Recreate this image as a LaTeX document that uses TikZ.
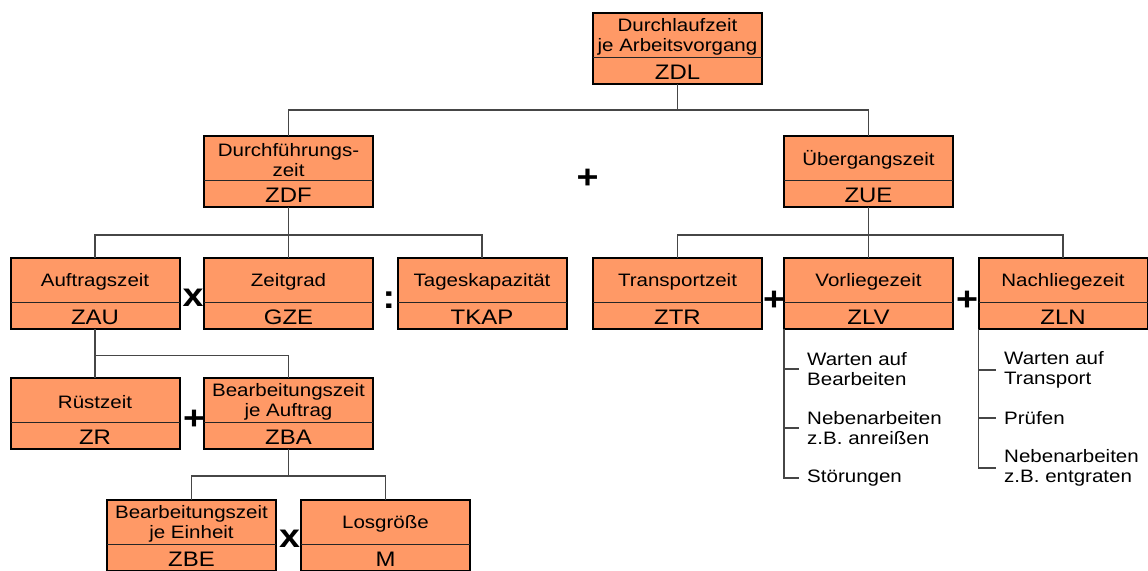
\documentclass[tikz,border=0pt]{standalone}
\usepackage{fontspec}
\setmainfont{Liberation Sans}[FakeStretch=1.14]
\usetikzlibrary{calc}

\definecolor{kastenfarbe}{RGB}{255,153,102}
\definecolor{linie}{RGB}{70,70,70}

\tikzset{
  kasten/.style={draw=black, line width=2pt, fill=kastenfarbe,
    minimum width=169pt, minimum height=71pt, outer sep=0pt, inner sep=0pt},
  teiler/.style={draw=black!85, line width=1pt},
  titel/.style={font=\fontsize{18}{20}\selectfont, align=center, inner sep=0pt},
  kurz/.style={font=\fontsize{21}{21}\selectfont, inner sep=0pt},
  verb/.style={draw=linie, line width=1.1pt},
  op/.style={font=\fontsize{33}{33}\selectfont\bfseries, inner sep=0pt},
  liste/.style={font=\fontsize{18}{20.5}\selectfont, align=left, inner sep=0pt, anchor=west},
}

% box with a description on top and the abbreviation below
\newcommand\kasten[5]{%
  \node[kasten] (#1) at (#2,#3) {};
  \draw[teiler] ($(#1.north west)+(0,44.5)$) -- ($(#1.north east)+(0,44.5)$);
  \node[titel] (#1-t) at ($(#1.north)+(0,24)$) {#4};
  \node[kurz] (#1-k) at ($(#1.south)+(0,-12)$) {#5};
}

\begin{document}
\begin{tikzpicture}[x=1pt, y=-1pt]
  \useasboundingbox (0,0) rectangle (1148,570);
  \clip (0,0) rectangle (1148,570);

  % boxes
  \kasten{zdl}{677.5}{48.5}{Durchlaufzeit\\je Arbeitsvorgang}{ZDL}
  \kasten{zdf}{288.5}{171.5}{Durchführungs-\\zeit}{ZDF}
  \kasten{zue}{868.5}{171.5}{Übergangszeit}{ZUE}
  \kasten{zau}{95}{293.7}{Auftragszeit}{ZAU}
  \kasten{gze}{288.5}{293.7}{Zeitgrad}{GZE}
  \kasten{tkap}{482}{293.7}{Tageskapazität}{TKAP}
  \kasten{ztr}{677.5}{293.7}{Transportzeit}{ZTR}
  \kasten{zlv}{868.5}{293.7}{Vorliegezeit}{ZLV}
  \kasten{zln}{1063}{293.7}{Nachliegezeit}{ZLN}
  \kasten{zr}{95}{413.5}{Rüstzeit}{ZR}
  \kasten{zba}{288.5}{413.5}{Bearbeitungszeit\\je Auftrag}{ZBA}
  \kasten{zbe}{191.5}{535.5}{Bearbeitungszeit\\je Einheit}{ZBE}
  \kasten{m}{385.5}{535.5}{Losgröße}{M}

  % tree connectors
  \coordinate (b1) at ($(zdl.south)+(0,26)$);
  \draw[verb] (zdl.south) -- (b1);
  \draw[verb] (zdf.north) |- (b1) -| (zue.north);

  \coordinate (b2) at ($(zdf.south)+(0,28)$);
  \draw[verb] (zdf.south) -- (gze.north);
  \draw[verb] (zau.north) |- (b2) -| (tkap.north);

  \coordinate (b3) at ($(zue.south)+(0,28)$);
  \draw[verb] (zue.south) -- (zlv.north);
  \draw[verb] (ztr.north) |- (b3) -| (zln.north);

  \coordinate (b4) at ($(zau.south)+(0,26)$);
  \draw[verb] (zau.south) -- (zr.north);
  \draw[verb] (b4) -| (zba.north);

  \coordinate (b5) at ($(zba.south)+(0,27)$);
  \draw[verb] (zba.south) -- (b5);
  \draw[verb] (zbe.north) |- (b5) -| (m.north);

  % operators
  \node[op] (op1) at (587.5,179) {+};
  \node[op] (op2) at (193,298) {x};
  \node[op] (op3) at (389,300) {:};
  \node[op] (op4) at (774,301) {+};
  \node[op] (op5) at (967,301) {+};
  \node[op] (op6) at (194,420) {+};
  \node[op] (op7) at (289.5,539) {x};

  % lists below the waiting times
  \node[liste] (lv1) at (807,369) {Warten auf\\Bearbeiten};
  \node[liste] (lv2) at (807,428) {Nebenarbeiten\\z.B. anreißen};
  \node[liste] (lv3) at (807,478) {Störungen};
  \node[liste] (ln1) at (1004,370) {Warten auf\\Transport};
  \node[liste] (ln2) at (1004,418) {Prüfen};
  \node[liste] (ln3) at (1004,468) {Nebenarbeiten\\z.B. entgraten};

  \draw[verb, shorten >=8pt] (zlv.south west) |- (lv3.west);
  \draw[verb, shorten >=8pt] (zlv.south west |- lv1.west) -- (lv1.west);
  \draw[verb, shorten >=8pt] (zlv.south west |- lv2.west) -- (lv2.west);
  \draw[verb, shorten >=8pt] (zln.south west) |- (ln3.west);
  \draw[verb, shorten >=8pt] (zln.south west |- ln1.west) -- (ln1.west);
  \draw[verb, shorten >=8pt] (zln.south west |- ln2.west) -- (ln2.west);
\end{tikzpicture}
\end{document}
